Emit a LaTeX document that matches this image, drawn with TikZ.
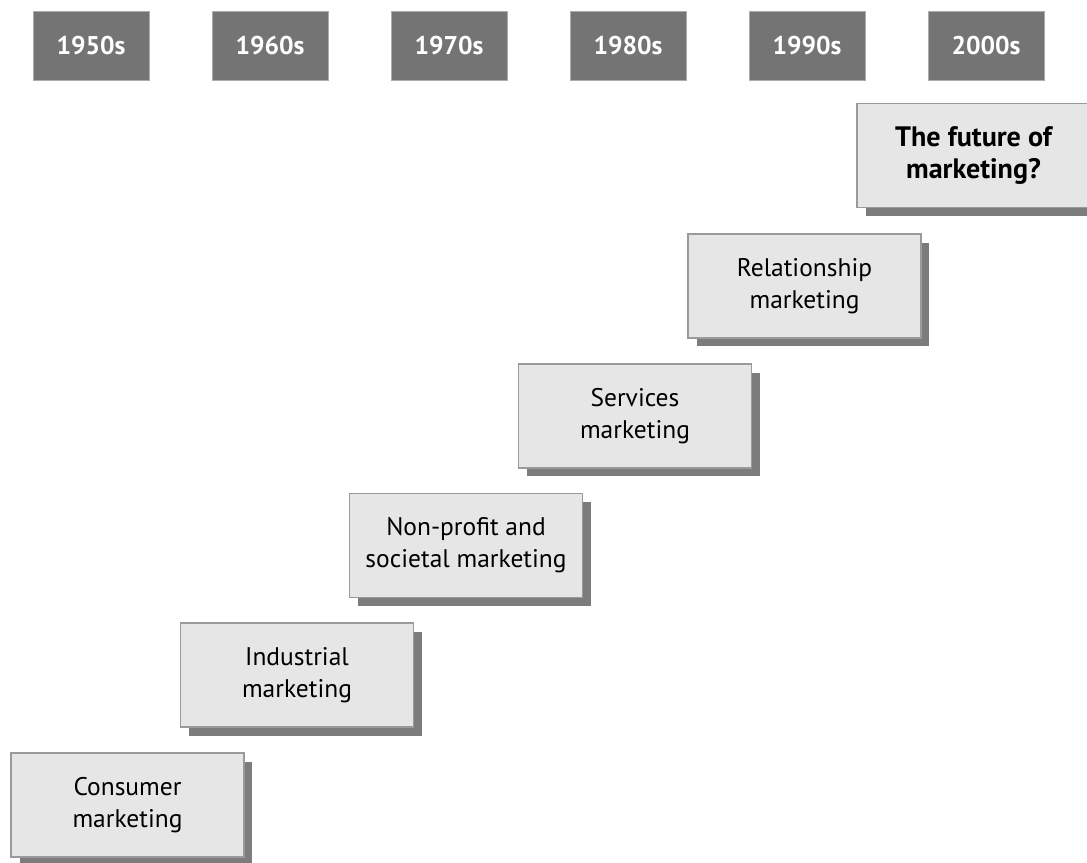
\documentclass[tikz,border=0pt]{standalone}
\usepackage{fontspec}
\setmainfont{PT Sans}
\usetikzlibrary{shadows}

\definecolor{decade}{HTML}{747474}
\definecolor{stagefill}{HTML}{E6E6E6}
\definecolor{stageline}{HTML}{9A9A9A}
\definecolor{stageshadow}{HTML}{7C7C7C}

\begin{document}
\begin{tikzpicture}[x=0.02cm, y=-0.02cm,
    yearbox/.style={fill=decade, draw=decade!60, line width=0.4pt,
        minimum width=2.32cm, minimum height=1.38cm, inner sep=0pt,
        text=white, font=\fontsize{14.6}{17}\selectfont\bfseries},
    stagebox/.style={fill=stagefill, draw=stageline, line width=0.8pt,
        minimum width=4.66cm, minimum height=2.08cm, inner sep=0pt,
        align=center, font=\fontsize{14.5}{18.2}\selectfont,
        general shadow={fill=stageshadow, shadow xshift=0.17cm, shadow yshift=-0.17cm}}]

\clip (0,0) rectangle (1087,862);

% Decades along the top
\foreach \yr [count=\i from 0] in {1950,1960,...,2000} {
    \node[yearbox] (d\yr) at ({91+179*\i},45.5) {\yr s};
}

% Stages, climbing to the right
\node[stagebox] (consumer)     at (127.5,805) {Consumer\\marketing};
\node[stagebox] (industrial)   at (297,675)   {Industrial\\marketing};
\node[stagebox] (nonprofit)    at (466,545.5) {Non-profit and\\societal marketing};
\node[stagebox] (services)     at (635,416)   {Services\\marketing};
\node[stagebox] (relationship) at (804.5,286) {Relationship\\marketing};
\node[stagebox, font=\fontsize{16}{18.6}\selectfont\bfseries] (future) at (973.5,155.5) {The future of\\marketing?};

\end{tikzpicture}
\end{document}
